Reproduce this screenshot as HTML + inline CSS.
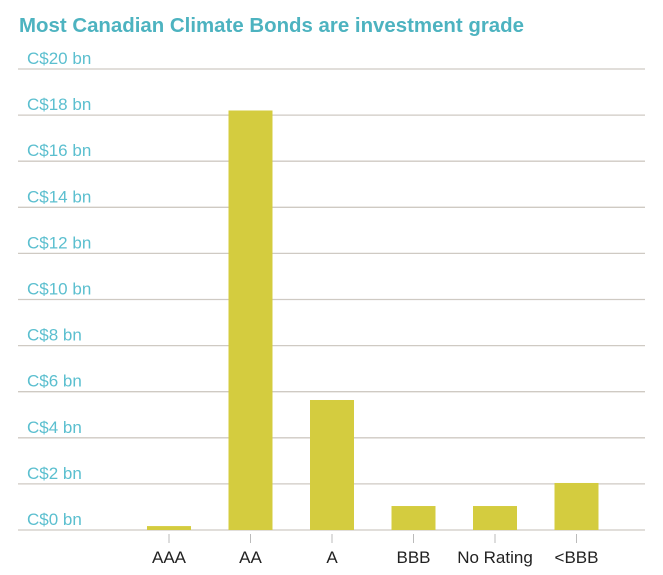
<!DOCTYPE html>
<html><head><meta charset="utf-8"><style>body{margin:0;background:#fff}svg{display:block}</style></head>
<body>
<svg width="663" height="575" xmlns="http://www.w3.org/2000/svg" font-family="Liberation Sans, sans-serif">
<text x="19" y="32" font-size="20" font-weight="bold" fill="#4db3c0" textLength="505" lengthAdjust="spacingAndGlyphs">Most Canadian Climate Bonds are investment grade</text>
<g id="grid"></g><g id="bars"></g><g id="xaxis"></g>
</svg>
<script>
const categories=["AAA","AA","A","BBB","No Rating","<BBB"];
const values=[0.17,18.2,5.64,1.04,1.04,2.04];
const yTicks=[0,2,4,6,8,10,12,14,16,18,20];
const yTickLabels=yTicks.map(v=>"C$"+v+" bn");
const NS="http://www.w3.org/2000/svg";
const y=v=>530-v*23.05;
const x=i=>169+i*81.5;
function mk(t,a,p){const e=document.createElementNS(NS,t);for(const k in a)e.setAttribute(k,a[k]);p.appendChild(e);return e;}
const g=document.getElementById('grid'),b=document.getElementById('bars'),xa=document.getElementById('xaxis');
yTicks.forEach((v,i)=>{
 const l=mk('line',{x1:18,x2:645,y1:y(v),y2:y(v),stroke:'#cfcac3','stroke-width':1.3},g);
 
 
 const t=mk('text',{x:27,y:y(v)-5,'font-size':17,fill:'#5bbfcf'},g);
 t.textContent=yTickLabels[i];
 
 
});
categories.forEach((c,i)=>{
 const r=mk('rect',{x:x(i)-22,y:y(values[i]),width:44,height:530-y(values[i]),fill:'#d4cc3f'},b);
 
 
 const tk=mk('line',{x1:x(i),x2:x(i),y1:534,y2:543,stroke:'#bbb','stroke-width':1},xa);
 
 
 const t=mk('text',{x:x(i),y:563,'font-size':17,fill:'#222','text-anchor':'middle'},xa);
 t.textContent=c;
 
 
});
</script>
</body></html>
